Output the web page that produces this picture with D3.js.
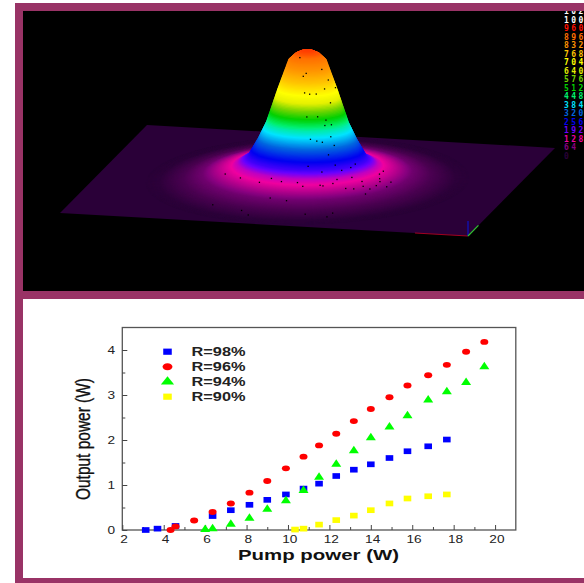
<!DOCTYPE html>
<html>
<head>
<meta charset="utf-8">
<script src="https://cdn.jsdelivr.net/npm/d3@7.9.0/dist/d3.min.js"></script>
<style>
  html, body { margin: 0; padding: 0; background: #fff; overflow: hidden; }
  svg { display: block; }
</style>
</head>
<body>
<svg id="fig" width="584" height="583"></svg>
<script>
// output power curves
const r98X = [3.13,3.7,4.57,6.36,7.24,8.14,9.0,9.9,10.75,11.5,12.33,13.18,14.0,14.9,15.77,16.77,17.67];
const r98Y = [0.0,0.03,0.09,0.31,0.44,0.56,0.67,0.79,0.92,1.03,1.2,1.34,1.46,1.6,1.75,1.86,2.01];
const r96X = [4.33,4.57,5.47,6.36,7.24,8.14,9.0,9.9,10.75,11.5,12.33,13.18,14.0,14.9,15.77,16.77,17.67,18.6,19.48];
const r96Y = [0.0,0.08,0.21,0.4,0.59,0.83,1.09,1.37,1.63,1.88,2.14,2.42,2.69,2.95,3.21,3.44,3.67,3.96,4.18];
const r94X = [6.0,6.36,7.24,8.14,9.0,9.9,10.75,11.5,12.33,13.18,14.0,14.9,15.77,16.77,17.67,18.6,19.48];
const r94Y = [0.01,0.03,0.13,0.26,0.46,0.65,0.88,1.17,1.46,1.76,2.05,2.29,2.54,2.89,3.07,3.28,3.63];
const r90X = [10.34,10.75,11.5,12.33,13.18,14.0,14.9,15.77,16.77,17.67];
const r90Y = [0.01,0.03,0.12,0.22,0.32,0.44,0.59,0.7,0.75,0.79];

const legendNames = ['R=98%','R=96%','R=94%','R=90%'];
const xTicks = [2,4,6,8,10,12,14,16,18,20];
const xMinor = [3,5,7,9,11,13,15,17,19];
const yTicks = [0,1,2,3,4];
const yMinor = [0.5,1.5,2.5,3.5];

// beam profile: radius on the plate -> colour level, surface height, sideways squeeze of the skirt
const profileR = [0,0.03,0.06,0.093,0.146,0.2,0.24,0.288,0.36,0.42,0.62,0.75,0.9,1];
const profileLevel = [930,928,910,870,704,420,315,220,150,128,50,24,3,0];
const profileHeight = [131,130,127,120.5,90.5,57.5,40.5,23.5,17.5,14.5,8,4,0.5,0];
const profileSqueeze = [1,1,1,1,1,1,1,1,0.93,0.86,0.8,0.78,0.78,0.78];

// colour bar of the profiler
const barLevels = [0,64,128,192,256,320,384,448,512,576,640,704,768,832,896,960];
const barColors = ['#2a0038','#85007f','#f000a0','#6a00ff','#0000f0','#0068e0','#00e4ff','#00f070','#00d000','#70d400','#e4f000','#ffff00','#ffc400','#ff9400','#ff7000','#ff1000'];
const barLabels = ['0','64','128','192','256','320','384','448','512','576','640','704','768','832','896','960','1000','1024'];

// dust specks on the surface: [radius, angle from the front]
const specks = [[0.141,0],[0.141,13],[0.139,-10],[0.134,33],[0.121,50],[0.102,37],[0.066,-40],[0.107,-8],[0.112,-15],[0.157,40],[0.137,70],
  [0.176,-5],[0.176,12],[0.182,25],[0.19,22],[0.19,33],[0.214,0],[0.218,8],[0.221,15],[0.211,28],[0.23,30],[0.25,20],[0.3,10],[0.277,25],
  [0.3,30],[0.29,42],[0.37,22],[0.277,-3],[0.43,10],[0.283,50],[0.43,66],[0.44,42],[0.43,-5],[0.37,-33],[0.39,-23],[0.39,-10],
  [0.41,18],[0.37,36],[0.5,54],[0.48,-78],[0.8,-46],[0.8,-30],[0.6,-22],[0.8,11],[0.8,-1],[0.5,38],[0.55,40],[0.51,30],[0.43,75],
  [0.49,25],[0.42,8],[0.43,-40],[0.44,-60],[0.62,-12],[0.85,8],[0.85,-25],[0.53,47],[0.58,52],[0.47,58],[0.6,34],[0.55,60]];

const maroon = '#993366';
const svg = d3.select('#fig');

// frame
svg.append('rect').attr('x',15).attr('y',3).attr('width',569).attr('height',580).attr('fill',maroon);
svg.append('rect').attr('x',23).attr('y',11).attr('width',561).attr('height',280).attr('fill','#000');
svg.append('rect').attr('x',23).attr('y',299).attr('width',561).attr('height',279).attr('fill','#fff');

// ---------- 3D beam picture ----------
const top3d = svg.append('g');
const uToX = d3.scaleLinear().domain([-1,1]).range([-204,204]);
const vToX = d3.scaleLinear().domain([-1,1]).range([-43.5,43.5]);
const uToY = d3.scaleLinear().domain([-1,1]).range([-11.5,11.5]);
const vToY = d3.scaleLinear().domain([-1,1]).range([44,-44]);
const rToLevel = d3.scaleLinear().domain(profileR).range(profileLevel);
const rToHeight = d3.scaleLinear().domain(profileR).range(profileHeight);
const rToSqueeze = d3.scaleLinear().domain(profileR).range(profileSqueeze);
const levelColor = d3.scaleLinear().domain(barLevels).range(barColors).clamp(true);

const cx = 307.5, cy = 180.5;
function project(u, v, h) {
  return [cx + uToX(u) + vToX(v), cy + uToY(u) + vToY(v) - h];
}
// point of a ring on the surface
function ringPoint(r, a) {
  return project(r*rToSqueeze(r)*Math.cos(a), r*Math.sin(a), rToHeight(r));
}
const closedLine = d3.line().curve(d3.curveLinearClosed);

top3d.append('path')
  .attr('d', closedLine([[-1,-1],[1,-1],[1,1],[-1,1]].map(c => project(c[0],c[1],0))))
  .attr('fill', levelColor(0));

// painted from the rim to the peak
const ringAngles = d3.range(0, 360, 4).map(a => a*Math.PI/180);
d3.range(0.98, 0, -0.002).forEach(r => {
  const pts = ringAngles.map(a => ringPoint(r, a));
  top3d.append('path').attr('d', closedLine(pts)).attr('fill', levelColor(rToLevel(r)));
});

specks.forEach(s => {
  const p = ringPoint(s[0], (s[1]-75)*Math.PI/180);
  top3d.append('rect').attr('x',p[0]).attr('y',p[1]).attr('width',1.3).attr('height',1.3).attr('fill','#000');
});

// small axes triad at the plate corner
const corner = project(1,-1,0);
top3d.append('path').attr('d', d3.line()([project(0.74,-1,0), project(1,-1,0)])).attr('stroke','#a00020').attr('stroke-width',1.2);
top3d.append('path').attr('d', d3.line()([corner, [corner[0],corner[1]-15]])).attr('stroke','#1010b0').attr('stroke-width',1.4);
top3d.append('path').attr('d', d3.line()([corner, project(1,-0.76,0)])).attr('stroke','#30c030').attr('stroke-width',1.2);

// colour bar labels
const barY = d3.scaleLinear().domain([0,17]).range([155.7,11]);
barLabels.forEach((t,i) => {
  top3d.append('text')
    .attr('x',564).attr('y',barY(i)+3)
    .attr('font-family','DejaVu Sans Mono').attr('font-size',8).attr('font-weight','bold')
    .attr('letter-spacing','2.4px')
    .attr('fill', i < barLevels.length ? levelColor(barLevels[i]) : '#fff')
    .text(t);
});
// top band goes over the clipped first label
svg.append('rect').attr('x',15).attr('y',3).attr('width',569).attr('height',8).attr('fill',maroon);

// ---------- output power plot ----------
const x = d3.scaleLinear().domain([2,21]).range([122.3,515.8]);
const y = d3.scaleLinear().domain([0,4.5]).range([530,327.5]);
const plot = svg.append('g');
const axisColor = '#444';

plot.append('rect')
  .attr('x',x(2)).attr('y',y(4.5)).attr('width',x(21)-x(2)).attr('height',y(0)-y(4.5))
  .attr('fill','none').attr('stroke','#555').attr('stroke-width',1.3);

const gx = plot.append('g').attr('transform',`translate(0,${y(0)})`)
  .call(d3.axisBottom(x).tickValues(xTicks).tickSize(-5).tickFormat(d3.format('d')));
plot.append('g').attr('transform',`translate(0,${y(0)})`)
  .call(d3.axisBottom(x).tickValues(xMinor).tickSize(-3).tickFormat(''));
const gy = plot.append('g').attr('transform',`translate(${x(2)},0)`)
  .call(d3.axisLeft(y).tickValues(yTicks).tickSize(-5).tickFormat(d3.format('d')));
plot.append('g').attr('transform',`translate(${x(2)},0)`)
  .call(d3.axisLeft(y).tickValues(yMinor).tickSize(-3).tickFormat(''));

plot.selectAll('.domain').attr('stroke','none');
plot.selectAll('.tick line').attr('stroke',axisColor).attr('stroke-width',1);

gx.selectAll('text')
  .attr('y',13.5).attr('dy',0).attr('x',1)
  .attr('transform','scale(1.3,1)')
  .attr('font-family','Liberation Sans').attr('font-size',10.5).attr('fill','#222');
gy.selectAll('text')
  .attr('x',-5.5).attr('dy','0.34em')
  .attr('transform','scale(1.3,1)')
  .attr('font-family','Liberation Sans').attr('font-size',10.5).attr('fill','#222');

const seriesDefs = [
  {xs:r98X, ys:r98Y, color:'#0000ff', type:d3.symbolSquare, size:40, sx:1.2, sy:0.9, lsx:1.35, lsy:0.98},
  {xs:r96X, ys:r96Y, color:'#ff0000', type:d3.symbolCircle, size:30, sx:1.3, sy:0.95, lsx:1.6, lsy:1.15},
  {xs:r94X, ys:r94Y, color:'#00ff00', type:d3.symbolTriangle, size:36, sx:1.1, sy:0.95, lsx:1.45, lsy:1.05},
  {xs:r90X, ys:r90Y, color:'#ffff00', type:d3.symbolSquare, size:40, sx:1.2, sy:0.9, lsx:1.35, lsy:0.98}
];
const legendY = d3.scaleLinear().domain([0,3]).range([351.7,396.7]);

seriesDefs.forEach((s,i) => {
  const path = d3.symbol().type(s.type).size(s.size)();
  plot.append('g').selectAll('path')
    .data(s.xs.map((v,k) => [v, s.ys[k]]))
    .join('path')
    .attr('d', path)
    .attr('fill', s.color)
    .attr('transform', d => `translate(${x(d[0])},${y(d[1])}) scale(${s.sx},${s.sy})`);

  plot.append('path')
    .attr('d', path)
    .attr('fill', s.color)
    .attr('transform', `translate(167.5,${legendY(i)}) scale(${s.lsx},${s.lsy})`);
  plot.append('text')
    .attr('x',191.5).attr('y',legendY(i)+4.2)
    .attr('textLength',54).attr('lengthAdjust','spacingAndGlyphs')
    .attr('font-family','Liberation Sans').attr('font-weight','bold').attr('font-size',12)
    .attr('fill','#222')
    .text(legendNames[i]);
});

plot.append('text')
  .attr('x',238).attr('y',560)
  .attr('textLength',161).attr('lengthAdjust','spacingAndGlyphs')
  .attr('font-family','Liberation Sans').attr('font-weight','bold').attr('font-size',15)
  .attr('fill','#111')
  .text('Pump power (W)');
plot.append('text')
  .attr('transform','translate(90,500) rotate(-90)')
  .attr('textLength',122).attr('lengthAdjust','spacingAndGlyphs')
  .attr('font-family','Liberation Sans').attr('font-size',20)
  .attr('fill','#111').attr('stroke','#111').attr('stroke-width',0.35)
  .text('Output power (W)');
</script>
</body>
</html>
